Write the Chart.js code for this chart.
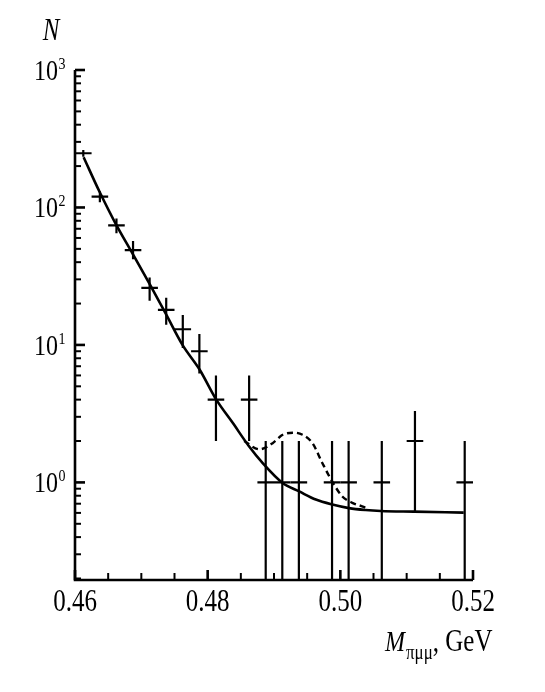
<!DOCTYPE html>
<html>
<head>
<meta charset="utf-8">
<script src="https://cdn.jsdelivr.net/npm/chart.js@4"></script>
<style>
  html, body { margin: 0; padding: 0; background: #fff; }
  #wrap { width: 545px; height: 692px; position: relative; }
</style>
</head>
<body>
<div id="wrap"><canvas id="chart"></canvas></div>
<script>
// measured spectrum (bin centres in GeV, events per bin)
const binCenters = [0.46125, 0.46375, 0.46625, 0.46875, 0.47125, 0.47375, 0.47625, 0.47875, 0.48125,
  0.48625, 0.48875, 0.49125, 0.49375, 0.49875, 0.50125, 0.50625, 0.51125, 0.51875];
const counts = [248, 120, 74, 49, 26, 18, 13, 9, 4, 4, 1, 1, 1, 1, 1, 1, 2, 1];
const errHigh = [262, 131, 83, 57, 31, 22, 16.5, 12, 6, 6, 2, 2, 2, 2, 2, 2, 3.3, 2];
const errLow = [234, 109, 65, 42, 21, 14, 9.5, 6.2, 2, 2, 0, 0, 0, 0, 0, 0, 0.6, 0];
const binHalfWidth = 0.00125;

// background fit (solid)
const fitMass = [0.4613, 0.4637, 0.4662, 0.4687, 0.4712, 0.4737, 0.4762, 0.4788, 0.4813, 0.4838,
  0.4862, 0.4883, 0.4913, 0.4938, 0.4963, 0.4988, 0.5013, 0.5038, 0.5061, 0.5111, 0.5186];
const fitCounts = [232, 130, 75, 46, 28, 16.8, 10, 6.6, 4.0, 2.7,
  1.84, 1.38, 0.99, 0.86, 0.75, 0.69, 0.65, 0.63, 0.62, 0.613, 0.603];

// fit with signal (dashed)
const sigMass = [0.4855, 0.4878, 0.4898, 0.4913, 0.4930, 0.4943, 0.4958, 0.4973, 0.4988, 0.5003, 0.5018, 0.5036, 0.5042];
const sigCounts = [2.0, 1.74, 1.93, 2.22, 2.30, 2.22, 1.93, 1.38, 1.01, 0.79, 0.71, 0.66, 0.635];

// axis ticks
const xTickLabels = ['0.46', '0.48', '0.50', '0.52'];
const yTickExponents = [3, 2, 1, 0];

const X_MIN = 0.46, X_MAX = 0.52, Y_MIN = 0.195, Y_MAX = 1000;
const SERIF = '"Liberation Serif", "DejaVu Serif", serif';

// text slightly taller than wide, like the scanned figure
function tallText(ctx, text, x, y, font, align, baseline) {
  ctx.save();
  ctx.font = font;
  ctx.textAlign = align || 'left';
  ctx.textBaseline = baseline || 'alphabetic';
  ctx.translate(x, y);
  ctx.scale(1, 1.25);
  ctx.fillText(text, 0, 0);
  ctx.restore();
}

const framePlugin = {
  id: 'frame',
  afterDatasetsDraw(chart) {
    const ctx = chart.ctx;
    const sx = chart.scales.x, sy = chart.scales.y;
    const area = chart.chartArea;
    ctx.save();
    ctx.strokeStyle = '#000';
    ctx.lineCap = 'butt';

    // error crosses
    ctx.lineWidth = 2.2;
    binCenters.forEach((c, i) => {
      const xc = sx.getPixelForValue(c);
      const x1 = Math.max(area.left, sx.getPixelForValue(c - binHalfWidth));
      const x2 = Math.min(area.right, sx.getPixelForValue(c + binHalfWidth));
      const yc = sy.getPixelForValue(counts[i]);
      const yTop = Math.max(area.top, sy.getPixelForValue(errHigh[i]));
      const yBot = errLow[i] > Y_MIN ? sy.getPixelForValue(errLow[i]) : area.bottom;
      ctx.beginPath();
      ctx.moveTo(x1, yc); ctx.lineTo(x2, yc);
      ctx.moveTo(xc, yTop); ctx.lineTo(xc, yBot);
      ctx.stroke();
    });

    // axes
    ctx.lineWidth = 2.6;
    ctx.beginPath();
    ctx.moveTo(area.left, area.top);
    ctx.lineTo(area.left, area.bottom);
    ctx.lineTo(area.right, area.bottom);
    ctx.stroke();

    // y ticks, pointing inwards
    for (let e = -1; e <= 3; e++) {
      for (let k = 1; k <= 9; k++) {
        const v = k * Math.pow(10, e);
        if (v < Y_MIN || v > Y_MAX * 1.0001) continue;
        const y = sy.getPixelForValue(v);
        ctx.lineWidth = k === 1 ? 2.6 : 2;
        ctx.beginPath();
        ctx.moveTo(area.left, y);
        ctx.lineTo(area.left + (k === 1 ? 10 : 6), y);
        ctx.stroke();
      }
    }

    // x ticks every 0.005
    for (let i = 0; i <= 12; i++) {
      const v = X_MIN + i * 0.005;
      const x = sx.getPixelForValue(v);
      const major = i % 4 === 0;
      ctx.lineWidth = major ? 2.6 : 2;
      ctx.beginPath();
      ctx.moveTo(x, area.bottom);
      ctx.lineTo(x, area.bottom - (major ? 10 : 7));
      ctx.stroke();
    }
    ctx.restore();
  },
  afterDraw(chart) {
    const ctx = chart.ctx;
    const sx = chart.scales.x, sy = chart.scales.y;
    const area = chart.chartArea;
    ctx.save();
    ctx.fillStyle = '#000';

    // y tick labels 10^n
    yTickExponents.forEach(e => {
      const y = sy.getPixelForValue(Math.pow(10, e));
      tallText(ctx, '10', 58, y + 2, '24px ' + SERIF, 'right', 'middle');
      tallText(ctx, String(e), 58.5, y - 6, '14px ' + SERIF, 'left', 'middle');
    });

    // x tick labels
    xTickLabels.forEach((t, i) => {
      const x = sx.getPixelForValue(X_MIN + i * 0.02);
      tallText(ctx, t, x, 603, '25px ' + SERIF, 'center', 'middle');
    });

    // axis titles
    tallText(ctx, 'N', 51, 32, 'italic 25px ' + SERIF, 'center', 'middle');
    let x = 385;
    ctx.font = 'italic 24px ' + SERIF;
    tallText(ctx, 'M', x, 651, 'italic 24px ' + SERIF);
    x += ctx.measureText('M').width + 1;
    ctx.font = '17px ' + SERIF;
    tallText(ctx, 'πμμ', x, 659, '17px ' + SERIF);
    x += ctx.measureText('πμμ').width;
    tallText(ctx, ', GeV', x, 651, '25px ' + SERIF);
    ctx.restore();
  }
};

new Chart(document.getElementById('chart'), {
  type: 'line',
  data: {
    datasets: [
      {
        label: 'fit',
        data: fitMass.map((m, i) => ({ x: m, y: fitCounts[i] })),
        borderColor: '#000',
        borderWidth: 2.6,
        pointRadius: 0,
        cubicInterpolationMode: 'monotone',
        fill: false
      },
      {
        label: 'fit + signal',
        data: sigMass.map((m, i) => ({ x: m, y: sigCounts[i] })),
        borderColor: '#000',
        borderWidth: 2.4,
        borderDash: [6, 4],
        pointRadius: 0,
        cubicInterpolationMode: 'monotone',
        fill: false
      }
    ]
  },
  options: {
    responsive: true,
    maintainAspectRatio: false,
    animation: false,
    layout: { padding: { left: 75, right: 72, top: 70, bottom: 112 } },
    plugins: { legend: { display: false }, tooltip: { enabled: false } },
    scales: {
      x: { type: 'linear', min: X_MIN, max: X_MAX, display: false },
      y: { type: 'logarithmic', min: Y_MIN, max: Y_MAX, display: false }
    }
  },
  plugins: [framePlugin]
});
</script>
</body>
</html>
